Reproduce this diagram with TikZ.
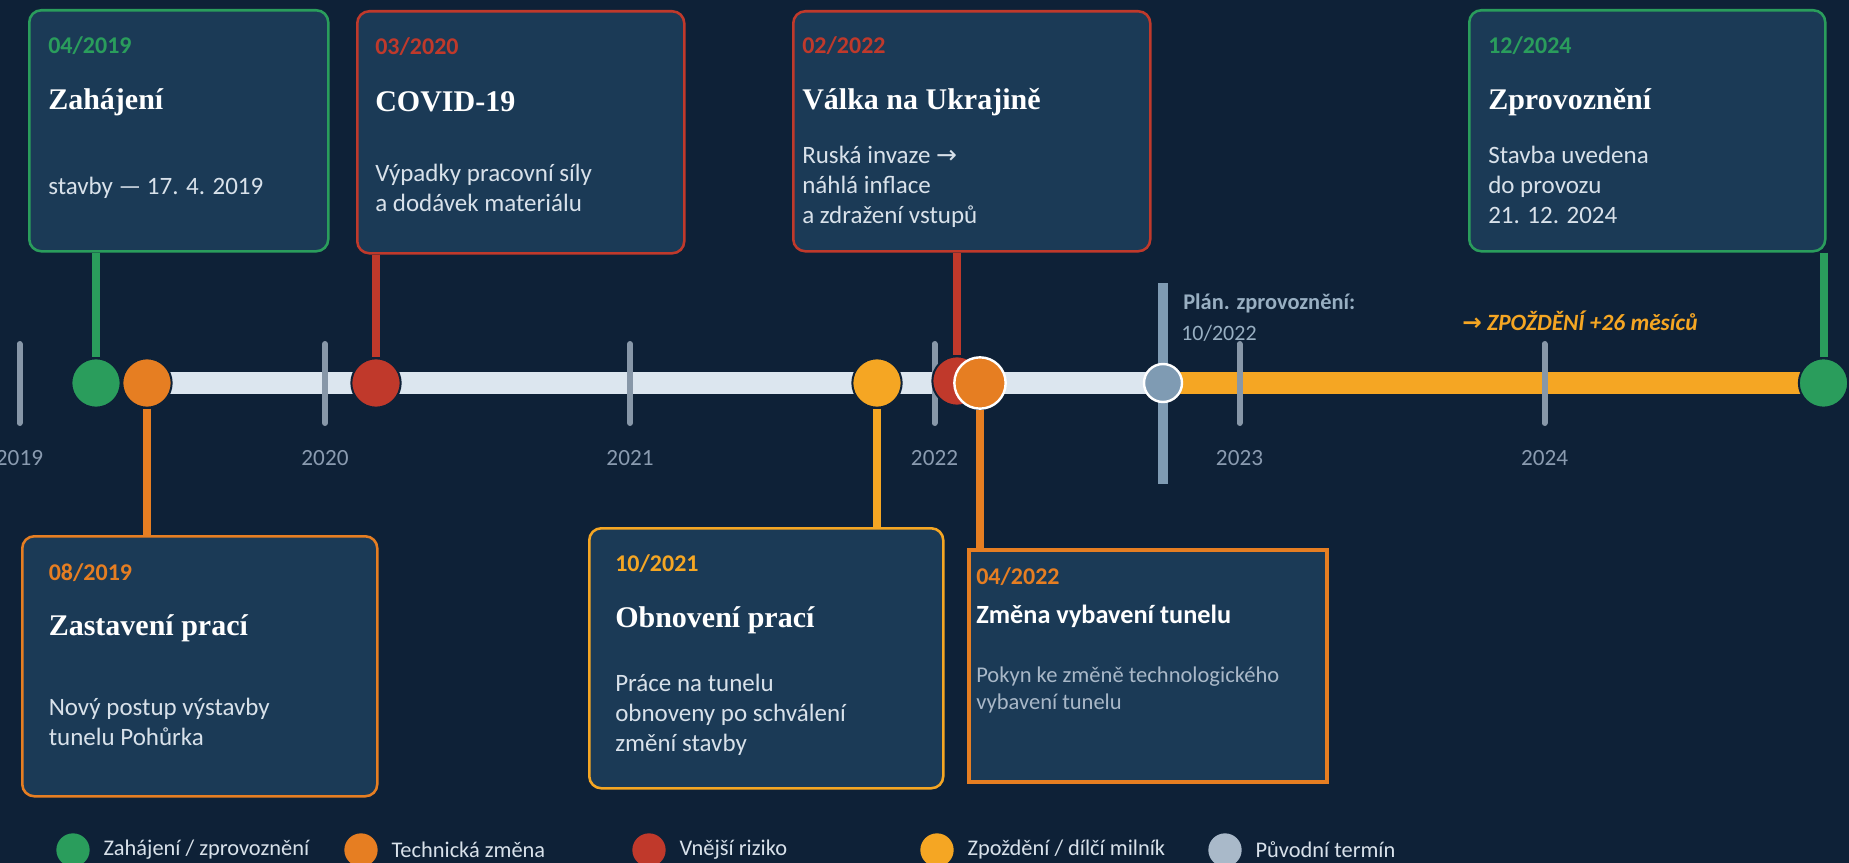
\documentclass[tikz,border=0pt]{standalone}
\usepackage{fontspec}
\setmainfont{Carlito}
\newfontfamily\headserif{Liberation Serif}
\newfontfamily\arrowfont{DejaVu Sans}
\usetikzlibrary{positioning}
\definecolor{navybg}{HTML}{0E2137}
\definecolor{boxfill}{HTML}{1B3A56}
\definecolor{startgreen}{HTML}{2A9D5C}
\definecolor{techorange}{HTML}{E67E22}
\definecolor{riskred}{HTML}{C0392B}
\definecolor{delayyellow}{HTML}{F5A623}
\definecolor{tickgrey}{HTML}{8797A8}
\definecolor{planblue}{HTML}{7F9BB3}
\definecolor{barlight}{HTML}{DCE6EF}
\definecolor{bodytext}{HTML}{D8E1EA}
\definecolor{yeargrey}{HTML}{8A9BB0}
\definecolor{dimtext}{HTML}{A9B8C8}
\definecolor{legendgrey}{HTML}{A9B9C9}

\begin{document}
\begin{tikzpicture}[x=0.75pt, y=-0.75pt,
	evbox/.style={draw=#1, fill=boxfill, line width=1.9pt, rounded corners=9pt, inner sep=0pt, anchor=north west},
	datetxt/.style={text=#1, font=\fontsize{18}{22}\selectfont\bfseries, inner sep=0pt, anchor=base west},
	headtxt/.style={text=white, font=\headserif\bfseries\fontsize{22.5}{27}\selectfont, inner sep=0pt, anchor=base west},
	bodytxt/.style={text=bodytext, font=\fontsize{18.75}{22.5}\selectfont, inner sep=0pt, anchor=base west},
	marker/.style={circle, fill=#1, draw=navybg, line width=1.5pt, minimum size=37pt, inner sep=0pt},
	conn/.style={draw=#1, line width=6pt},
	yeartick/.style={draw=tickgrey, line width=4.5pt, line cap=round},
	yearlbl/.style={text=yeargrey, font=\fontsize{17.4}{20}\selectfont},
	legdot/.style={circle, fill=#1, minimum size=25pt, inner sep=0pt},
	legtxt/.style={text=bodytext, font=\fontsize{16.8}{20}\selectfont, inner sep=0pt}]
\useasboundingbox (0,0) rectangle (1849,863);
\fill[navybg] (0,0) rectangle (1849,863);
\clip (0,0) rectangle (1849,863);

% timeline bar
\fill[barlight] (147,372) rectangle (1163,394);
\fill[delayyellow] (1163,372) rectangle (1823,394);

% years
\foreach \yr/\xx in {2019/19.5, 2020/325, 2021/630, 2022/934.5, 2023/1239.5, 2024/1544.5} {
	\draw[yeartick] (\xx,344) -- (\xx,423);
	\node[yearlbl] (yr\yr) at (\xx,458) {\yr};
}

% original deadline
\draw[planblue, line width=7.5pt] (1163,283) -- (1163,484);
\node[text=planblue!80!white, font=\fontsize{16.8}{20}\selectfont\bfseries, inner sep=0pt, anchor=base west] (planLbl) at (1183,309) {Plán. zprovoznění:};
\node[text=planblue!80!white, font=\fontsize{16.5}{20}\selectfont, inner sep=0pt, anchor=base west] (planDate) at (1181,340) {10/2022};
\node[text=delayyellow, font=\fontsize{17.5}{20}\selectfont\bfseries\itshape, inner sep=0pt, anchor=base west] (delayLbl) at (1462,330) {{\arrowfont →} ZPOŽDĚNÍ +26 měsíců};

% markers
\node[marker=startgreen] (mkA) at (96,383) {};
\node[marker=techorange] (mkB) at (147,383) {};
\node[marker=riskred] (mkC) at (376,383) {};
\node[marker=delayyellow] (mkD) at (877,383) {};
\node[marker=riskred] (mkE) at (957,381) {};
\node[marker=techorange, draw=white, line width=1.8pt, minimum size=38.5pt] (mkF) at (980,383) {};
\node[marker=planblue, draw=white, line width=1.8pt, minimum size=28.5pt] (mkPlan) at (1163,383) {};
\node[marker=startgreen] (mkG) at (1823.5,383) {};

% event boxes
\node[evbox=startgreen, minimum width=224.25pt, minimum height=180.75pt] (zah) at (28,9) {};
\node[evbox=riskred, minimum width=245.25pt, minimum height=181.5pt] (covid) at (356,10) {};
\node[evbox=riskred, minimum width=267.75pt, minimum height=180pt] (valka) at (792,10) {};
\node[evbox=startgreen, minimum width=267pt, minimum height=180.75pt] (zprov) at (1468,9) {};
\node[evbox=techorange, minimum width=266.25pt, minimum height=195pt] (zast) at (21,535) {};
\node[evbox=delayyellow, minimum width=265.5pt, minimum height=195pt] (obnov) at (588,527) {};
\node[evbox=techorange, sharp corners, line width=3pt, minimum width=268.5pt, minimum height=174pt] (zmena) at (967,548) {};

% connectors
\draw[conn=startgreen] (zah.south -| mkA) -- (mkA);
\draw[conn=techorange] (mkB) -- (zast.north -| mkB);
\draw[conn=riskred] (covid.south -| mkC) -- (mkC);
\draw[conn=delayyellow] (mkD) -- (obnov.north -| mkD);
\draw[conn=riskred] (valka.south -| mkE) -- (mkE);
\draw[conn=techorange] (mkF) -- (zmena.north -| mkF);
\draw[conn=startgreen] (zprov.south -| mkG) -- (mkG);

% box texts
\node[datetxt=startgreen] (zahDate) at ([shift={(20,45)}]zah.north west) {04/2019};
\node[headtxt] (zahHead) at ([shift={(20,101)}]zah.north west) {Zahájení};
\node[bodytxt] (zahBody) at ([shift={(20,186)}]zah.north west) {stavby — 17. 4. 2019};

\node[datetxt=riskred] (covidDate) at ([shift={(19,45)}]covid.north west) {03/2020};
\node[headtxt] (covidHead) at ([shift={(19,102)}]covid.north west) {COVID-19};
\node[bodytxt] (covidBody) at ([shift={(19,172)}]covid.north west) {\begin{tabular}[t]{@{}l@{}}Výpadky pracovní síly\\a dodávek materiálu\end{tabular}};

\node[datetxt=riskred] (valkaDate) at ([shift={(10,44)}]valka.north west) {02/2022};
\node[headtxt] (valkaHead) at ([shift={(10,100)}]valka.north west) {Válka na Ukrajině};
\node[bodytxt] (valkaBody) at ([shift={(10,154)}]valka.north west) {\begin{tabular}[t]{@{}l@{}}Ruská invaze {\arrowfont →}\\náhlá inflace\\a zdražení vstupů\end{tabular}};

\node[datetxt=startgreen] (zprovDate) at ([shift={(20,45)}]zprov.north west) {12/2024};
\node[headtxt] (zprovHead) at ([shift={(20,101)}]zprov.north west) {Zprovoznění};
\node[bodytxt] (zprovBody) at ([shift={(20,155)}]zprov.north west) {\begin{tabular}[t]{@{}l@{}}Stavba uvedena\\do provozu\\21. 12. 2024\end{tabular}};

\node[datetxt=techorange] (zastDate) at ([shift={(27.5,45)}]zast.north west) {08/2019};
\node[headtxt] (zastHead) at ([shift={(27.5,100)}]zast.north west) {Zastavení prací};
\node[bodytxt] (zastBody) at ([shift={(27.5,180)}]zast.north west) {\begin{tabular}[t]{@{}l@{}}Nový postup výstavby\\tunelu Pohůrka\end{tabular}};

\node[datetxt=delayyellow] (obnovDate) at ([shift={(27,44)}]obnov.north west) {10/2021};
\node[headtxt] (obnovHead) at ([shift={(27,100)}]obnov.north west) {Obnovení prací};
\node[bodytxt] (obnovBody) at ([shift={(27,164)}]obnov.north west) {\begin{tabular}[t]{@{}l@{}}Práce na tunelu\\obnoveny po schválení\\změní stavby\end{tabular}};

\node[datetxt=techorange] (zmenaDate) at ([shift={(9,36)}]zmena.north west) {04/2022};
\node[text=white, font=\fontsize{19.7}{24}\selectfont\bfseries, inner sep=0pt, anchor=base west] (zmenaHead) at ([shift={(9,75)}]zmena.north west) {Změna vybavení tunelu};
\node[bodytxt, text=dimtext, font=\fontsize{16.9}{20.25}\selectfont] (zmenaBody) at ([shift={(9,134)}]zmena.north west) {\begin{tabular}[t]{@{}l@{}}Pokyn ke změně technologického\\vybavení tunelu\end{tabular}};

% legend
\node[legdot=startgreen] (lgA) at (73,850) {};
\node[legtxt, right=10pt of lgA] (lgAtxt) {Zahájení / zprovoznění};
\node[legdot=techorange] (lgB) at (361,850) {};
\node[legtxt, right=10pt of lgB] (lgBtxt) {Technická změna};
\node[legdot=riskred] (lgC) at (649,850) {};
\node[legtxt, right=10pt of lgC] (lgCtxt) {Vnější riziko};
\node[legdot=delayyellow] (lgD) at (937,850) {};
\node[legtxt, right=10pt of lgD] (lgDtxt) {Zpoždění / dílčí milník};
\node[legdot=legendgrey] (lgE) at (1225,850) {};
\node[legtxt, right=10pt of lgE] (lgEtxt) {Původní termín};
\end{tikzpicture}
\end{document}
